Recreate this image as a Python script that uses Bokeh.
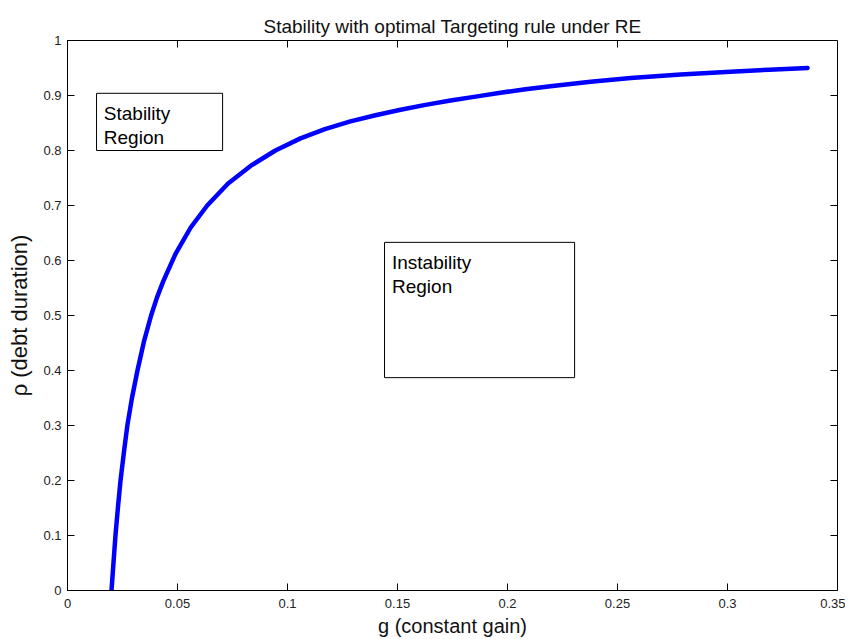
from bokeh.plotting import figure
from bokeh.models import (FixedTicker, BoxAnnotation, Label, Range1d)
from bokeh.embed import file_html
from bokeh.resources import INLINE

# Boundary curve
g_vals = [0.0200, 0.0209, 0.0218, 0.0229, 0.0241, 0.0256, 0.0272, 0.0293, 0.0318,
          0.0347, 0.0380, 0.0407, 0.0435, 0.0491, 0.0560, 0.0635, 0.0730, 0.0832,
          0.0945, 0.1059, 0.1170, 0.1286, 0.1400, 0.1514, 0.1627, 0.1741, 0.1855,
          0.1968, 0.2082, 0.2195, 0.2378, 0.2560, 0.2787, 0.3014, 0.3190, 0.3364]
rho_vals = [0.000, 0.050, 0.100, 0.150, 0.200, 0.250, 0.300, 0.350, 0.400,
            0.452, 0.500, 0.533, 0.562, 0.612, 0.660, 0.700, 0.740, 0.772,
            0.800, 0.822, 0.839, 0.853, 0.864, 0.874, 0.883, 0.891, 0.898,
            0.905, 0.9115, 0.917, 0.925, 0.932, 0.938, 0.943, 0.947, 0.950]

x_ticks = [0, 0.05, 0.1, 0.15, 0.2, 0.25, 0.3, 0.35]
x_tick_labels = ["0", "0.05", "0.1", "0.15", "0.2", "0.25", "0.3", "0.35"]
y_ticks = [0, 0.1, 0.2, 0.3, 0.4, 0.5, 0.6, 0.7, 0.8, 0.9, 1.0]
y_tick_labels = ["0", "0.1", "0.2", "0.3", "0.4", "0.5", "0.6", "0.7", "0.8", "0.9", "1"]

FONT = "Liberation Sans"
X0, X1, Y0, Y1 = 0.0, 0.35, 0.0, 1.0
FRAME_W, FRAME_H = 770, 551
TICK = 7

p = figure(width=845, height=639, output_backend="svg", toolbar_location=None,
           x_range=Range1d(X0, X1), y_range=Range1d(Y0, Y1),
           min_border_left=67, min_border_right=8, min_border_top=40,
           min_border_bottom=48)
p.title.text = "Stability with optimal Targeting rule under RE"
p.title.align = "center"
p.title.text_font = FONT
p.title.text_font_size = "19px"
p.title.text_font_style = "normal"
p.title.text_color = "#111111"
p.title.offset = 0
p.title.standoff = 8

p.grid.visible = False
p.outline_line_color = "black"
p.outline_line_width = 1
p.background_fill_color = "white"
p.border_fill_color = "white"

def style_axis(ax, ticks, labels):
    ax.ticker = FixedTicker(ticks=ticks)
    ax.major_label_overrides = {t: l for t, l in zip(ticks, labels)}
    ax.major_tick_in = TICK
    ax.major_tick_out = 0
    ax.minor_tick_line_color = None
    ax.axis_line_color = "black"
    ax.major_tick_line_color = "black"
    ax.major_label_text_font = FONT
    ax.major_label_text_font_size = "13px"
    ax.major_label_text_color = "#222222"
    ax.major_label_standoff = 6
    ax.axis_label_text_font = FONT
    ax.axis_label_text_font_style = "normal"
    ax.axis_label_text_color = "#111111"

style_axis(p.xaxis[0], x_ticks, x_tick_labels)
style_axis(p.yaxis[0], y_ticks, y_tick_labels)
p.xaxis[0].major_label_standoff = 8
p.xaxis[0].axis_label = "g (constant gain)"
p.xaxis[0].axis_label_text_font_size = "20px"
p.xaxis[0].axis_label_standoff = 4
p.yaxis[0].axis_label = "ρ (debt duration)"
p.yaxis[0].axis_label_text_font_size = "22px"
p.yaxis[0].axis_label_standoff = 8

# inward ticks on the top and right edges of the box
dy = TICK * (Y1 - Y0) / FRAME_H
dx = TICK * (X1 - X0) / FRAME_W
p.segment(x0=x_ticks, y0=[Y1] * len(x_ticks), x1=x_ticks, y1=[Y1 - dy] * len(x_ticks),
          line_color="black", line_width=1)
p.segment(x0=[X1] * len(y_ticks), y0=y_ticks, x1=[X1 - dx] * len(y_ticks), y1=y_ticks,
          line_color="black", line_width=1)

p.line(g_vals, rho_vals, line_color="#0000ff", line_width=4.5, line_join="round",
       line_cap="round")

# Annotation boxes
for l, r, b, t in [(0.0132, 0.0705, 0.800, 0.904), (0.1441, 0.2305, 0.387, 0.633)]:
    p.add_layout(BoxAnnotation(left=l, right=r, bottom=b, top=t,
                               fill_alpha=0.0, line_color="black", line_alpha=1.0,
                               line_width=1))

for txt, x, y in [("Stability", 0.0165, 0.868), ("Region", 0.0165, 0.824),
                  ("Instability", 0.1475, 0.597), ("Region", 0.1475, 0.553)]:
    p.add_layout(Label(x=x, y=y, text=txt, text_font=FONT, text_font_size="19px",
                       text_color="black", text_baseline="middle"))

open("out.html", "w").write(file_html(p, INLINE))
